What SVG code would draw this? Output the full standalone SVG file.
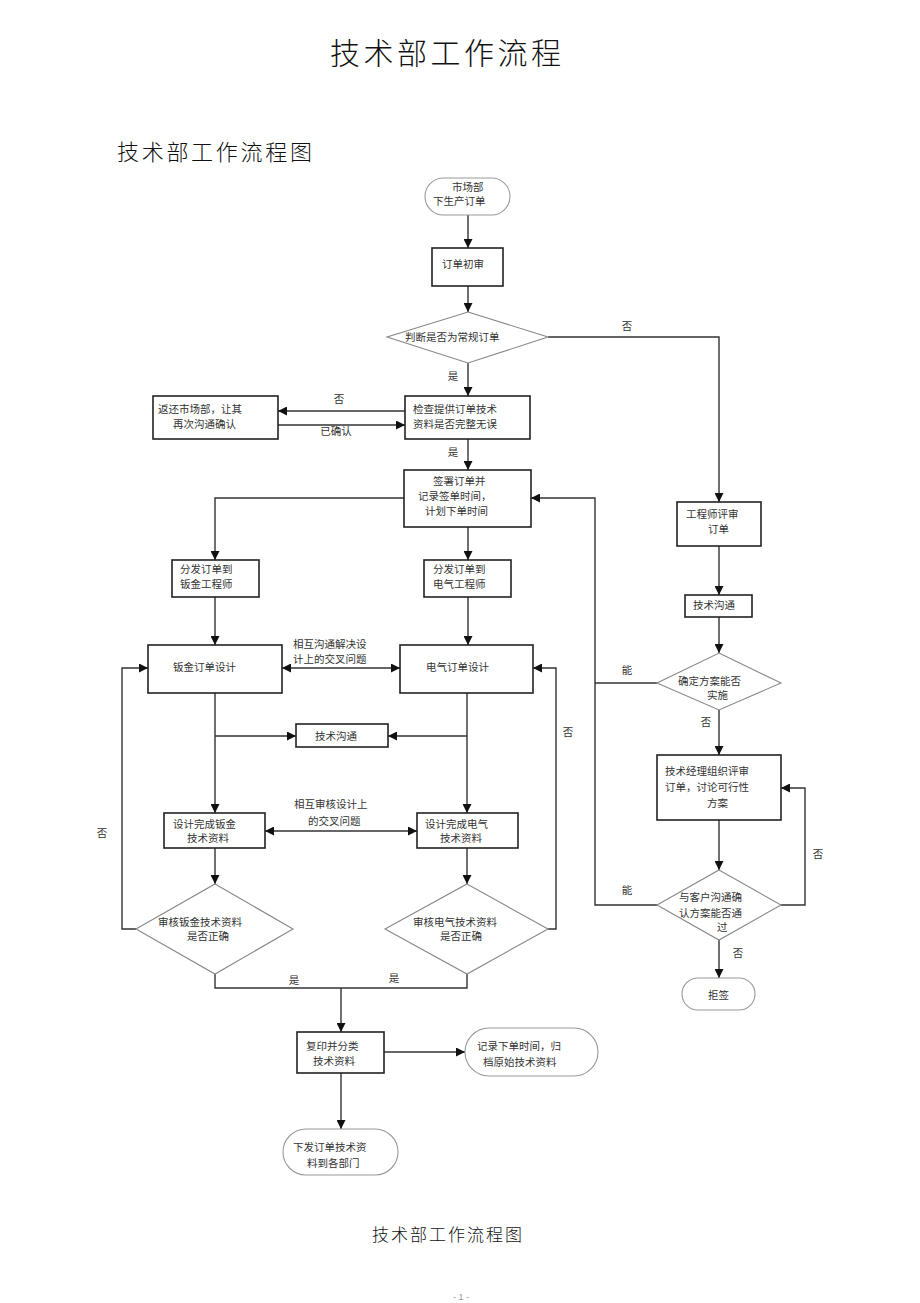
<svg xmlns="http://www.w3.org/2000/svg" width="920" height="1303" viewBox="0 0 920 1303">
<style>
.bg{fill:#fff}
.box{fill:#fff;stroke:#222;stroke-width:1.6}
.dia{fill:#fff;stroke:#888;stroke-width:1.1}
.term{fill:#fff;stroke:#999;stroke-width:1.1}
.ln{fill:none;stroke:#333;stroke-width:1.4}
.t{font-family:"Liberation Serif","Noto Sans CJK SC",serif;font-size:10.5px;fill:#333}
.title{font-family:"Noto Sans CJK SC",sans-serif;font-weight:300;fill:#111}
</style>
<defs>
<marker id="ah" viewBox="0 0 10 10" refX="10" refY="5" markerWidth="10" markerHeight="9" orient="auto-start-reverse" markerUnits="userSpaceOnUse">
<path d="M0,0 L10,5 L0,10 z" fill="#111"/>
</marker>
</defs>
<rect class="bg" x="0" y="0" width="920" height="1303"/>

<text class="title" x="330" y="64" font-size="30" letter-spacing="3.5">技术部工作流程</text>
<text class="title" x="117" y="160" font-size="22" letter-spacing="2.7">技术部工作流程图</text>
<text class="title" x="372" y="1241" font-size="17" letter-spacing="2">技术部工作流程图</text>
<text x="461" y="1300" text-anchor="middle" font-family="Liberation Sans,sans-serif" font-size="9" fill="#999">- 1 -</text>

<g id="connectors">
<path class="ln" d="M468,215 V248" marker-end="url(#ah)"/>
<path class="ln" d="M468,286 V312" marker-end="url(#ah)"/>
<path class="ln" d="M468,363 V396" marker-end="url(#ah)"/>
<path class="ln" d="M405,411 H278" marker-end="url(#ah)"/>
<path class="ln" d="M278,425 H405" marker-end="url(#ah)"/>
<path class="ln" d="M468,439 V470" marker-end="url(#ah)"/>
<path class="ln" d="M548,337 H719 V502" marker-end="url(#ah)"/>
<path class="ln" d="M404,498 H215 V560" marker-end="url(#ah)"/>
<path class="ln" d="M468,527 V560" marker-end="url(#ah)"/>
<path class="ln" d="M215,597 V645" marker-end="url(#ah)"/>
<path class="ln" d="M468,597 V645" marker-end="url(#ah)"/>
<path class="ln" d="M282,668 H400" marker-start="url(#ah)" marker-end="url(#ah)"/>
<path class="ln" d="M215,693 V813" marker-end="url(#ah)"/>
<path class="ln" d="M467,693 V813" marker-end="url(#ah)"/>
<path class="ln" d="M215,736 H296" marker-end="url(#ah)"/>
<path class="ln" d="M467,736 H388" marker-end="url(#ah)"/>
<path class="ln" d="M265,831 H417" marker-start="url(#ah)" marker-end="url(#ah)"/>
<path class="ln" d="M215,848 V884" marker-end="url(#ah)"/>
<path class="ln" d="M467,848 V884" marker-end="url(#ah)"/>
<path class="ln" d="M136,929 H122 V668 H148" marker-end="url(#ah)"/>
<path class="ln" d="M548,929 H556 V668 H533" marker-end="url(#ah)"/>
<path class="ln" d="M215,974 V988 H467 V974"/>
<path class="ln" d="M341,988 V1032" marker-end="url(#ah)"/>
<path class="ln" d="M384,1052 H465" marker-end="url(#ah)"/>
<path class="ln" d="M341,1073 V1129" marker-end="url(#ah)"/>
<path class="ln" d="M719,546 V595" marker-end="url(#ah)"/>
<path class="ln" d="M719,617 V653" marker-end="url(#ah)"/>
<path class="ln" d="M657,683 H595"/>
<path class="ln" d="M657,905 H595 V498 H531" marker-end="url(#ah)"/>
<path class="ln" d="M719,710 V755" marker-end="url(#ah)"/>
<path class="ln" d="M719,820 V870" marker-end="url(#ah)"/>
<path class="ln" d="M781,905 H805 V788 H781" marker-end="url(#ah)"/>
<path class="ln" d="M719,940 V978" marker-end="url(#ah)"/>
</g>

<g id="edge-labels">
<text class="t" x="339" y="403" text-anchor="middle">否</text>
<text class="t" x="336" y="435" text-anchor="middle">已确认</text>
<text class="t" x="453" y="380" text-anchor="middle">是</text>
<text class="t" x="453" y="456" text-anchor="middle">是</text>
<text class="t" x="627" y="330" text-anchor="middle">否</text>
<text class="t" x="293" y="648">相互沟通解决设</text>
<text class="t" x="293" y="663">计上的交叉问题</text>
<text class="t" x="568" y="736" text-anchor="middle">否</text>
<text class="t" x="294" y="808">相互审核设计上</text>
<text class="t" x="308" y="825">的交叉问题</text>
<text class="t" x="102" y="837" text-anchor="middle">否</text>
<text class="t" x="294" y="984" text-anchor="middle">是</text>
<text class="t" x="394" y="982" text-anchor="middle">是</text>
<text class="t" x="627" y="674" text-anchor="middle">能</text>
<text class="t" x="706" y="726" text-anchor="middle">否</text>
<text class="t" x="818" y="858" text-anchor="middle">否</text>
<text class="t" x="627" y="894" text-anchor="middle">能</text>
<text class="t" x="738" y="957" text-anchor="middle">否</text>
</g>

<g id="n-start">
<rect class="term" x="425" y="178" width="85" height="37" rx="18.5"/>
<text class="t" x="452" y="191">市场部</text>
<text class="t" x="433" y="205">下生产订单</text>
</g>
<g id="n-review">
<rect class="box" x="432" y="248" width="71" height="38"/>
<text class="t" x="442" y="268">订单初审</text>
</g>
<g id="n-regular">
<polygon class="dia" points="468,312 548,337 468,363 387,337"/>
<text class="t" x="405" y="341">判断是否为常规订单</text>
</g>
<g id="n-check">
<rect class="box" x="405" y="396" width="125" height="43"/>
<text class="t" x="413" y="413">检查提供订单技术</text>
<text class="t" x="413" y="428">资料是否完整无误</text>
</g>
<g id="n-return">
<rect class="box" x="153" y="396" width="125" height="43"/>
<text class="t" x="158" y="413">返还市场部，让其</text>
<text class="t" x="173" y="428">再次沟通确认</text>
</g>
<g id="n-sign">
<rect class="box" x="404" y="470" width="127" height="57"/>
<text class="t" x="433" y="485">签署订单并</text>
<text class="t" x="418" y="500">记录签单时间，</text>
<text class="t" x="425" y="515">计划下单时间</text>
</g>
<g id="n-dist-sheet">
<rect class="box" x="172" y="560" width="87" height="37"/>
<text class="t" x="180" y="573">分发订单到</text>
<text class="t" x="180" y="588">钣金工程师</text>
</g>
<g id="n-dist-elec">
<rect class="box" x="424" y="560" width="87" height="37"/>
<text class="t" x="433" y="573">分发订单到</text>
<text class="t" x="433" y="588">电气工程师</text>
</g>
<g id="n-design-sheet">
<rect class="box" x="148" y="645" width="134" height="48"/>
<text class="t" x="173" y="671">钣金订单设计</text>
</g>
<g id="n-design-elec">
<rect class="box" x="400" y="645" width="133" height="48"/>
<text class="t" x="426" y="671">电气订单设计</text>
</g>
<g id="n-comm-mid">
<rect class="box" x="296" y="724" width="92" height="23"/>
<text class="t" x="315" y="740">技术沟通</text>
</g>
<g id="n-done-sheet">
<rect class="box" x="164" y="813" width="101" height="35"/>
<text class="t" x="173" y="828">设计完成钣金</text>
<text class="t" x="187" y="842">技术资料</text>
</g>
<g id="n-done-elec">
<rect class="box" x="417" y="813" width="101" height="35"/>
<text class="t" x="425" y="828">设计完成电气</text>
<text class="t" x="440" y="842">技术资料</text>
</g>
<g id="n-audit-sheet">
<polygon class="dia" points="215,884 293,929 215,974 136,929"/>
<text class="t" x="158" y="926">审核钣金技术资料</text>
<text class="t" x="187" y="940">是否正确</text>
</g>
<g id="n-audit-elec">
<polygon class="dia" points="467,884 548,929 467,974 385,929"/>
<text class="t" x="413" y="926">审核电气技术资料</text>
<text class="t" x="440" y="940">是否正确</text>
</g>
<g id="n-copy">
<rect class="box" x="297" y="1032" width="87" height="41"/>
<text class="t" x="306" y="1050">复印并分类</text>
<text class="t" x="313" y="1065">技术资料</text>
</g>
<g id="n-archive">
<rect class="term" x="465" y="1028" width="133" height="48" rx="24"/>
<text class="t" x="477" y="1050">记录下单时间，归</text>
<text class="t" x="483" y="1066">档原始技术资料</text>
</g>
<g id="n-issue">
<rect class="term" x="283" y="1129" width="115" height="46" rx="23"/>
<text class="t" x="293" y="1151">下发订单技术资</text>
<text class="t" x="307" y="1167">料到各部门</text>
</g>
<g id="n-eng-review">
<rect class="box" x="677" y="502" width="84" height="44"/>
<text class="t" x="686" y="518">工程师评审</text>
<text class="t" x="708" y="533">订单</text>
</g>
<g id="n-comm-right">
<rect class="box" x="685" y="595" width="67" height="22"/>
<text class="t" x="693" y="609">技术沟通</text>
</g>
<g id="n-feasible">
<polygon class="dia" points="719,653 781,683 719,710 657,683"/>
<text class="t" x="678" y="685">确定方案能否</text>
<text class="t" x="707" y="699">实施</text>
</g>
<g id="n-manager">
<rect class="box" x="657" y="755" width="124" height="65"/>
<text class="t" x="665" y="775">技术经理组织评审</text>
<text class="t" x="665" y="791">订单，讨论可行性</text>
<text class="t" x="707" y="807">方案</text>
</g>
<g id="n-customer">
<polygon class="dia" points="719,870 781,905 719,940 657,905"/>
<text class="t" x="679" y="901">与客户沟通确</text>
<text class="t" x="679" y="917">认方案能否通</text>
<text class="t" x="717" y="931">过</text>
</g>
<g id="n-reject">
<rect class="term" x="682" y="978" width="73" height="32" rx="16"/>
<text class="t" x="708" y="999">拒签</text>
</g>
</svg>
